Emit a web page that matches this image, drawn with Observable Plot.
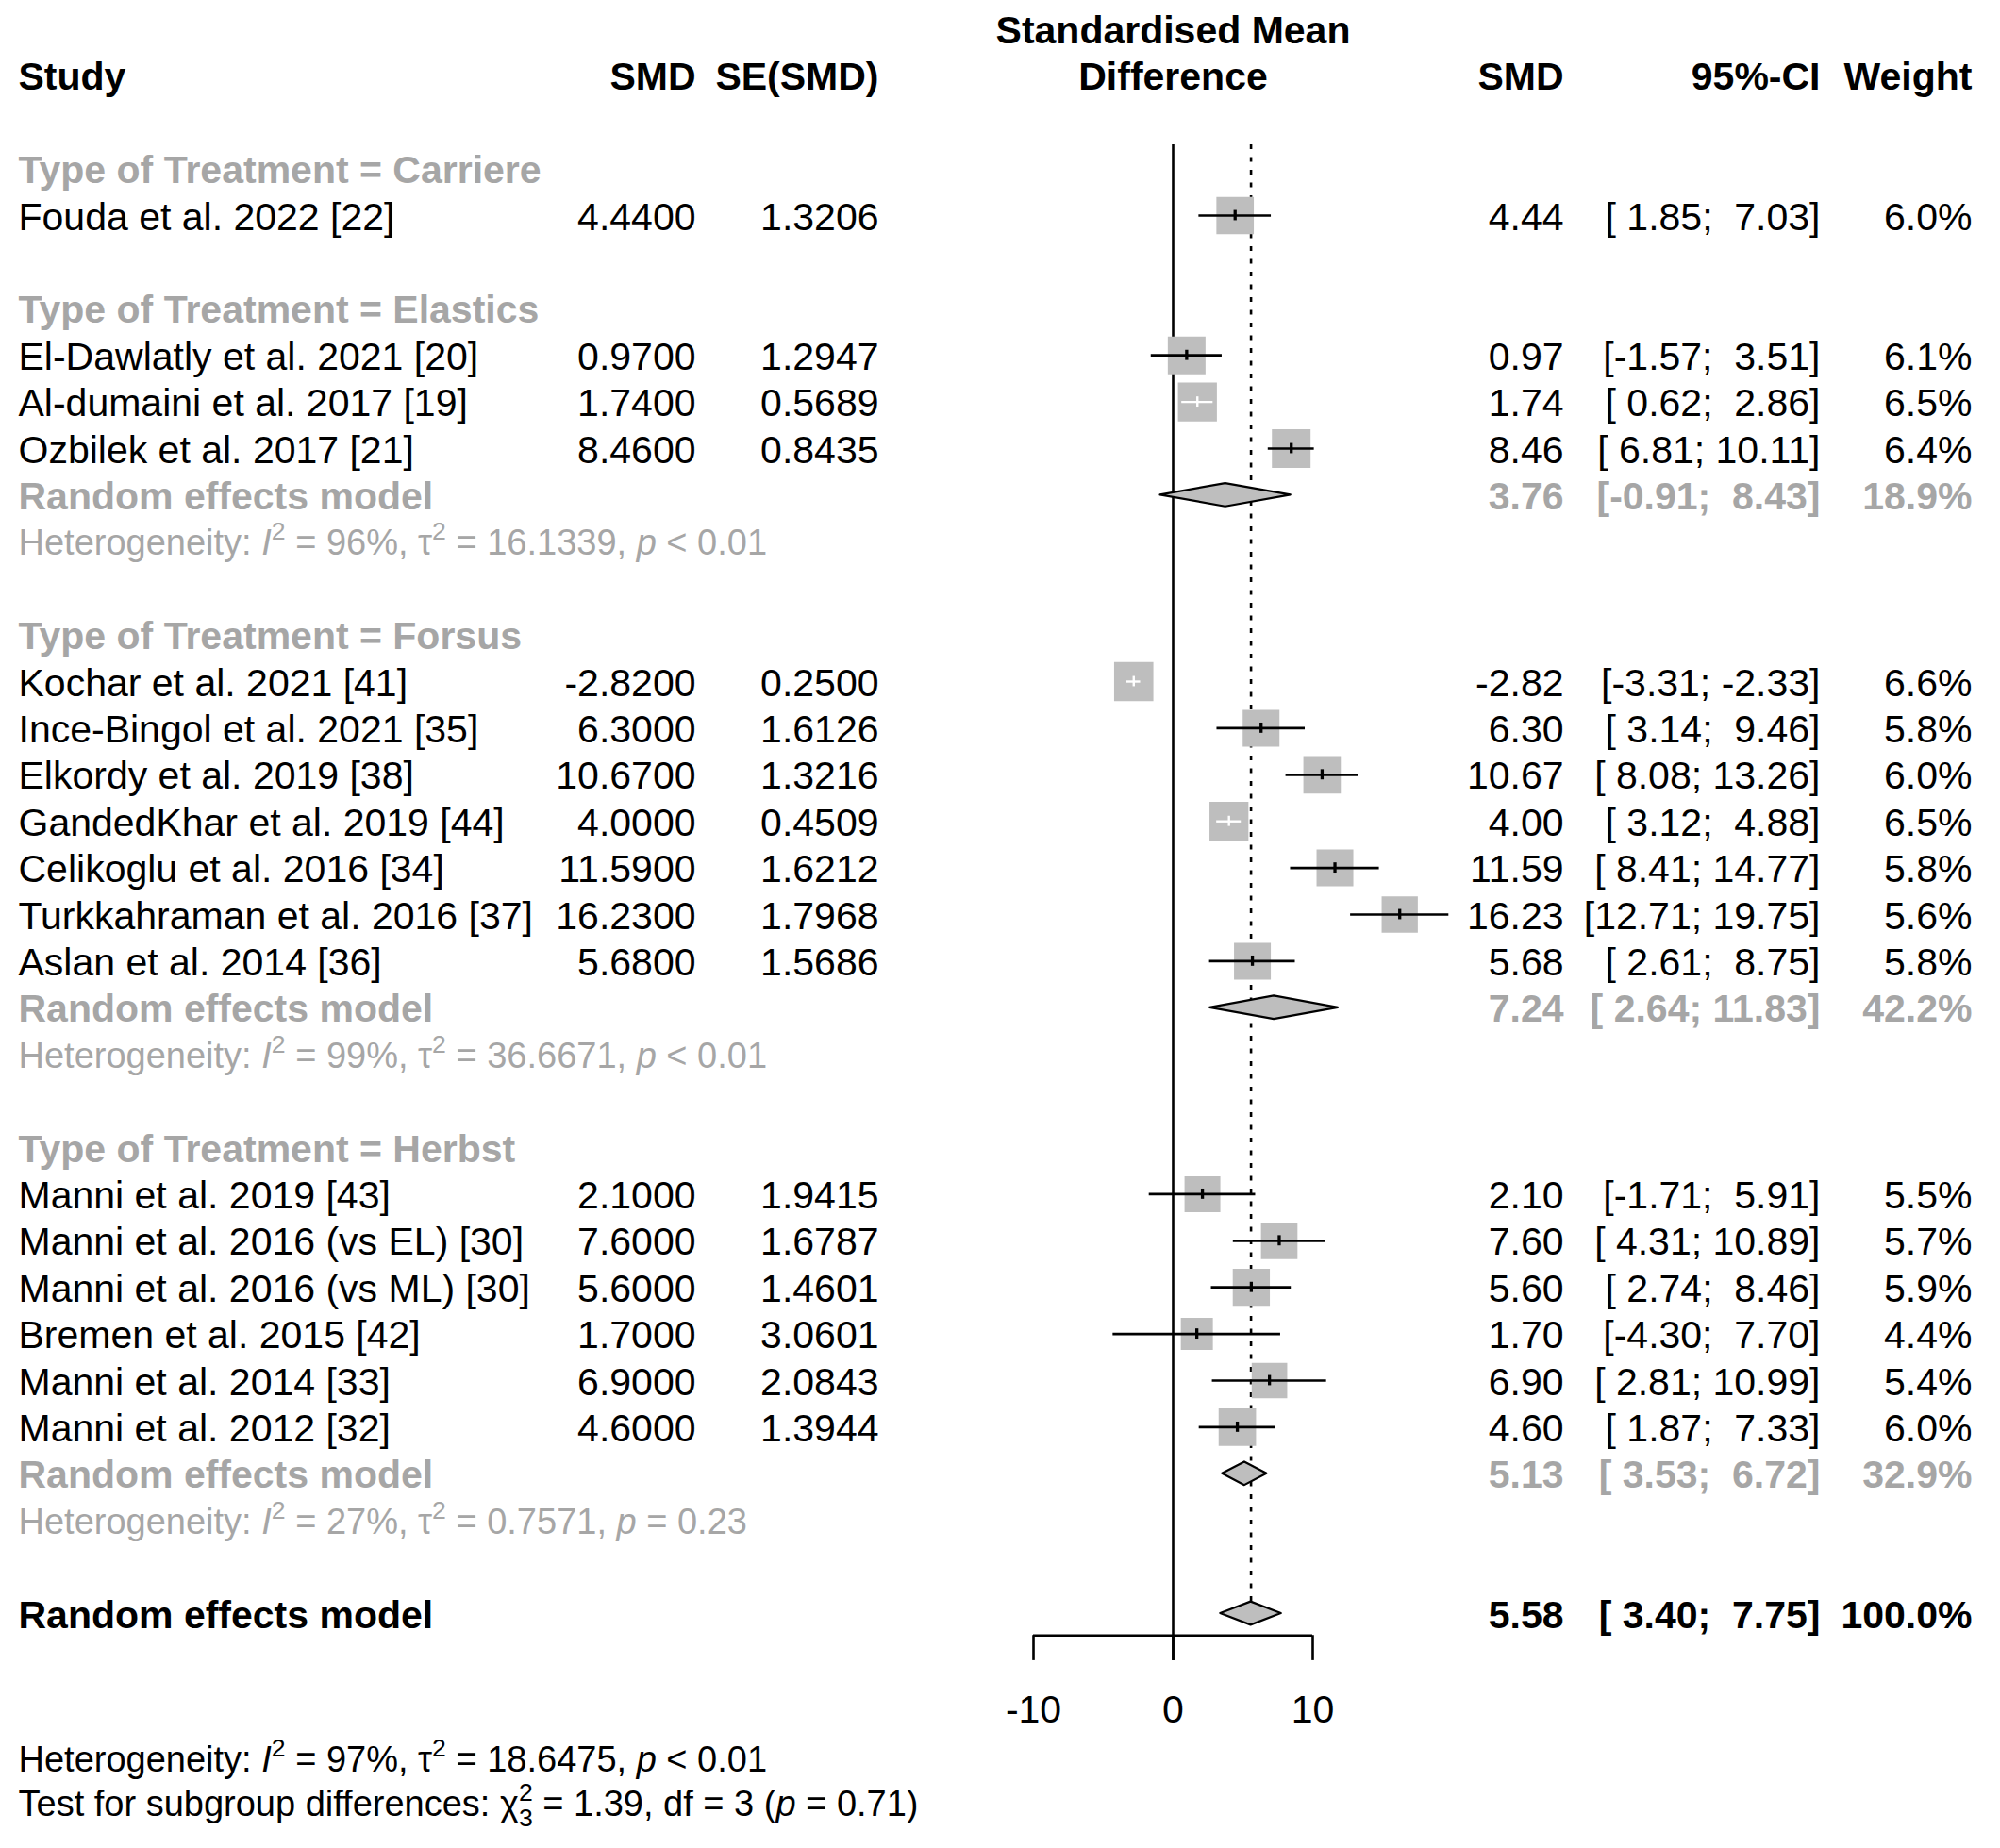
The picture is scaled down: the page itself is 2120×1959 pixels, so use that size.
<!DOCTYPE html>
<html><head><meta charset="utf-8">
<script src="https://cdn.jsdelivr.net/npm/d3@7"></script>
<script src="https://cdn.jsdelivr.net/npm/@observablehq/plot@0.6"></script>
<style>
html,body{margin:0;padding:0;background:#fff;}
svg text{white-space:pre;}
</style></head><body><div id="chart"></div>
<script>
// ---------------- DATA ----------------
const groupNames = ["Carriere", "Elastics", "Forsus", "Herbst"];
const studyNames = [
  "Fouda et al. 2022 [22]",
  "El-Dawlatly et al. 2021 [20]", "Al-dumaini et al. 2017 [19]", "Ozbilek et al. 2017 [21]",
  "Kochar et al. 2021 [41]", "Ince-Bingol et al. 2021 [35]", "Elkordy et al. 2019 [38]",
  "GandedKhar et al. 2019 [44]", "Celikoglu et al. 2016 [34]", "Turkkahraman et al. 2016 [37]",
  "Aslan et al. 2014 [36]",
  "Manni et al. 2019 [43]", "Manni et al. 2016 (vs EL) [30]", "Manni et al. 2016 (vs ML) [30]",
  "Bremen et al. 2015 [42]", "Manni et al. 2014 [33]", "Manni et al. 2012 [32]"
];
const studyGroup = [
  "Carriere",
  "Elastics", "Elastics", "Elastics",
  "Forsus", "Forsus", "Forsus", "Forsus", "Forsus", "Forsus", "Forsus",
  "Herbst", "Herbst", "Herbst", "Herbst", "Herbst", "Herbst"
];
const smd = [4.44, 0.97, 1.74, 8.46, -2.82, 6.30, 10.67, 4.00, 11.59, 16.23, 5.68, 2.10, 7.60, 5.60, 1.70, 6.90, 4.60];
const seSMD = [1.3206, 1.2947, 0.5689, 0.8435, 0.2500, 1.6126, 1.3216, 0.4509, 1.6212, 1.7968, 1.5686, 1.9415, 1.6787, 1.4601, 3.0601, 2.0843, 1.3944];
const ciLower = [1.85, -1.57, 0.62, 6.81, -3.31, 3.14, 8.08, 3.12, 8.41, 12.71, 2.61, -1.71, 4.31, 2.74, -4.30, 2.81, 1.87];
const ciUpper = [7.03, 3.51, 2.86, 10.11, -2.33, 9.46, 13.26, 4.88, 14.77, 19.75, 8.75, 5.91, 10.89, 8.46, 7.70, 10.99, 7.33];
const weights = [6.0, 6.1, 6.5, 6.4, 6.6, 5.8, 6.0, 6.5, 5.8, 5.6, 5.8, 5.5, 5.7, 5.9, 4.4, 5.4, 6.0];

const subgroupSMD = [null, 3.76, 7.24, 5.13];
const subgroupLower = [null, -0.91, 2.64, 3.53];
const subgroupUpper = [null, 8.43, 11.83, 6.72];
const subgroupWeight = [null, 18.9, 42.2, 32.9];
const subgroupI2 = [null, "96%", "99%", "27%"];
const subgroupTau2 = [null, "16.1339", "36.6671", "0.7571"];
const subgroupP = [null, "< 0.01", "< 0.01", "= 0.23"];

const overallSMD = 5.58, overallLower = 3.40, overallUpper = 7.75, overallWeight = 100.0;
const overallI2 = "97%", overallTau2 = "18.6475", overallP = "< 0.01";
const testChi2 = "1.39", testDf = 3, testP = "0.71";
const axisTicks = [-10, 0, 10];

// ---------------- LAYOUT ----------------
const W = 2120, H = 1959;
const zeroX = 1243, pxPerUnit = 14.8;
const rowTop = 178.6, rowH = 49.4;
const FS = 41, FS_HET = 38, TDY = 2;
const GRAY = "#a6a6a6", SQ = "#bebebe";
const FONT = "'Liberation Sans', Arial, Helvetica, sans-serif";
const COL = {study: 19, smd: 737, se: 931, est: 1657, ci: 1929, w: 2090};
const maxSide = 41.3, refW = 6.5;

const pad = (s, n) => s.padStart(n, " ");
const fmtCI = (lo, hi) => "[" + pad(lo.toFixed(2), 5) + "; " + pad(hi.toFixed(2), 5) + "]";

// build rows
const studyRows = [], summaryRows = [], headerRows = [], hetRows = [];
let r = 0;
groupNames.forEach((g, gi) => {
  headerRows.push({row: r, label: `Type of Treatment = ${g}`}); r++;
  studyNames.forEach((s, i) => {
    if (studyGroup[i] !== g) return;
    const side = maxSide * Math.sqrt(weights[i] / refW);
    studyRows.push({
      row: r, name: s, smd: smd[i], se: seSMD[i], lower: ciLower[i], upper: ciUpper[i], weight: weights[i],
      inside: (ciUpper[i] - ciLower[i]) * pxPerUnit < side
    });
    r++;
  });
  if (subgroupSMD[gi] != null) {
    summaryRows.push({row: r, id: g, label: "Random effects model", smd: subgroupSMD[gi], lower: subgroupLower[gi], upper: subgroupUpper[gi], weight: subgroupWeight[gi], color: GRAY});
    r++;
    hetRows.push({row: r, label: `Heterogeneity: I² = ${subgroupI2[gi]}, τ² = ${subgroupTau2[gi]}, p ${subgroupP[gi]}`, color: GRAY});
    r++;
  }
  r++;
});
const overallRow = r;
summaryRows.push({row: overallRow, id: "overall", label: "Random effects model", smd: overallSMD, lower: overallLower, upper: overallUpper, weight: overallWeight, color: "black"});
const axisRow = overallRow + 0.47, tickEnd = overallRow + 1.01, tickLabelRow = overallRow + 2.03;
const bottomRows = [
  {row: overallRow + 3.1, label: `Heterogeneity: I² = ${overallI2}, τ² = ${overallTau2}, p ${overallP}`, color: "black"},
  {row: overallRow + 4.05, label: `Test for subgroup differences: χ²₃ = ${testChi2}, df = ${testDf} (p = ${testP})`, color: "black"}
];

const dHalf = 0.25;
const diamondPts = summaryRows.flatMap(d => [
  {id: d.id, y: d.row - dHalf, x1: d.smd, x2: d.smd},
  {id: d.id, y: d.row, x1: d.lower, x2: d.upper},
  {id: d.id, y: d.row + dHalf, x1: d.smd, x2: d.smd}
]);

const txt = (data, text, dx, anchor, opts = {}) => Plot.text(data, {
  y: "row", text, frameAnchor: "left", dx, dy: TDY, textAnchor: anchor, fontSize: FS, ...opts
});

const headerTop = [{row: -3}], header2 = [{row: -2}];
const lineTop = -0.52;

const chart = Plot.plot({
  width: W, height: H, margin: 0,
  x: {domain: [-zeroX / pxPerUnit, (W - zeroX) / pxPerUnit], axis: null},
  y: {domain: [-rowTop / rowH, (H - rowTop) / rowH], range: [0, H], axis: null},
  r: {type: "sqrt", domain: [0, refW], range: [0, maxSide / Math.sqrt(Math.PI)]},
  style: {fontFamily: FONT, fontSize: FS + "px", background: "white", color: "black"},
  marks: [
    // reference lines
    Plot.ruleX([0], {y1: lineTop, y2: tickEnd, stroke: "black", strokeWidth: 2.6}),
    Plot.ruleX([overallSMD], {y1: lineTop, y2: overallRow - dHalf, stroke: "black", strokeWidth: 2.6, strokeDasharray: "5,8.5"}),
    // axis
    Plot.ruleY([axisRow], {x1: axisTicks[0], x2: axisTicks[axisTicks.length - 1], stroke: "black", strokeWidth: 2.6}),
    Plot.ruleX(axisTicks, {y1: axisRow, y2: tickEnd, stroke: "black", strokeWidth: 2.6}),
    Plot.text(axisTicks, {x: d => d, y: tickLabelRow, dy: TDY, text: d => String(d), fontSize: FS, fill: "black"}),
    // squares
    Plot.dot(studyRows, {x: "smd", y: "row", r: "weight", symbol: "square", fill: SQ}),
    // CI lines
    Plot.ruleY(studyRows, {filter: d => !d.inside, y: "row", x1: "lower", x2: "upper", stroke: "black", strokeWidth: 2.7}),
    Plot.ruleY(studyRows, {filter: d => d.inside, y: "row", x1: "lower", x2: "upper", stroke: "white", strokeWidth: 2.4}),
    Plot.ruleX(studyRows, {filter: d => !d.inside, x: "smd", y1: d => d.row - 0.11, y2: d => d.row + 0.11, stroke: "black", strokeWidth: 3.3}),
    Plot.ruleX(studyRows, {filter: d => d.inside, x: "smd", y1: d => d.row - 0.11, y2: d => d.row + 0.11, stroke: "white", strokeWidth: 2.4}),
    // diamonds
    Plot.areaX(diamondPts, {y: "y", x1: "x1", x2: "x2", z: "id", fill: SQ, stroke: "black", strokeWidth: 2.2}),
    // headers
    txt(header2, () => "Study", COL.study, "start", {fontWeight: "bold", fill: "black"}),
    txt(header2, () => "SMD", COL.smd, "end", {fontWeight: "bold", fill: "black"}),
    txt(header2, () => "SE(SMD)", COL.se, "end", {fontWeight: "bold", fill: "black"}),
    Plot.text(headerTop, {x: () => 0, y: "row", dy: TDY, text: () => "Standardised Mean", fontSize: FS, fontWeight: "bold", fill: "black"}),
    Plot.text(header2, {x: () => 0, y: "row", dy: TDY, text: () => "Difference", fontSize: FS, fontWeight: "bold", fill: "black"}),
    txt(header2, () => "SMD", COL.est, "end", {fontWeight: "bold", fill: "black"}),
    txt(header2, () => "95%-CI", COL.ci, "end", {fontWeight: "bold", fill: "black"}),
    txt(header2, () => "Weight", COL.w, "end", {fontWeight: "bold", fill: "black"}),
    // group headers
    txt(headerRows, "label", COL.study, "start", {fontWeight: "bold", fill: GRAY}),
    // studies
    txt(studyRows, "name", COL.study, "start", {fill: "black"}),
    txt(studyRows, d => d.smd.toFixed(4), COL.smd, "end", {fill: "black"}),
    txt(studyRows, d => d.se.toFixed(4), COL.se, "end", {fill: "black"}),
    txt(studyRows, d => d.smd.toFixed(2), COL.est, "end", {fill: "black"}),
    txt(studyRows, d => fmtCI(d.lower, d.upper), COL.ci, "end", {fill: "black"}),
    txt(studyRows, d => d.weight.toFixed(1) + "%", COL.w, "end", {fill: "black"}),
    // summaries
    txt(summaryRows, "label", COL.study, "start", {fontWeight: "bold", fill: d => d.color}),
    txt(summaryRows, d => d.smd.toFixed(2), COL.est, "end", {fontWeight: "bold", fill: d => d.color}),
    txt(summaryRows, d => fmtCI(d.lower, d.upper), COL.ci, "end", {fontWeight: "bold", fill: d => d.color}),
    txt(summaryRows, d => d.weight.toFixed(1) + "%", COL.w, "end", {fontWeight: "bold", fill: d => d.color}),
    // heterogeneity
    txt(hetRows, "label", COL.study, "start", {fontSize: FS_HET, fill: GRAY}),
    txt(bottomRows, "label", COL.study, "start", {fontSize: FS_HET, fill: "black"})
  ]
});
document.getElementById("chart").appendChild(chart);

// rich text: italics, superscripts, subscripts
const SVGNS = "http://www.w3.org/2000/svg";
function segsFrom(s) {
  const segs = []; let buf = "";
  const flush = () => { if (buf) { segs.push({t: buf}); buf = ""; } };
  for (let i = 0; i < s.length; i++) {
    const c = s[i];
    if (c === "²") { flush(); segs.push({t: "2", kind: "sup"}); }
    else if (c === "₃") { flush(); segs.push({t: "3", kind: "sub", back: true}); }
    else if ((c === "I" && s[i + 1] === "²") || (c === "p" && /[\s(]/.test(s[i - 1] || "") && s[i + 1] === " ")) { flush(); segs.push({t: c, kind: "i"}); }
    else buf += c;
  }
  flush();
  return segs;
}
chart.querySelectorAll("text").forEach(t => {
  const s = t.textContent;
  if (!(s.startsWith("Heterogeneity:") || s.startsWith("Test for subgroup"))) return;
  const fs = FS_HET;
  const segs = segsFrom(s);
  t.textContent = "";
  let shift = 0;
  for (const seg of segs) {
    const ts = document.createElementNS(SVGNS, "tspan");
    let target = 0;
    if (seg.kind === "sup") { target = -0.42 * fs; ts.setAttribute("font-size", (0.7 * fs).toFixed(1)); }
    if (seg.kind === "sub") { target = 0.3 * fs; ts.setAttribute("font-size", (0.7 * fs).toFixed(1)); }
    if (seg.kind === "i") ts.setAttribute("font-style", "italic");
    if (target !== shift) { ts.setAttribute("dy", (target - shift).toFixed(1)); shift = target; }
    if (seg.back) ts.setAttribute("dx", (-0.556 * 0.7 * fs).toFixed(1));
    ts.textContent = seg.t;
    t.appendChild(ts);
  }
});
</script>
</body></html>
